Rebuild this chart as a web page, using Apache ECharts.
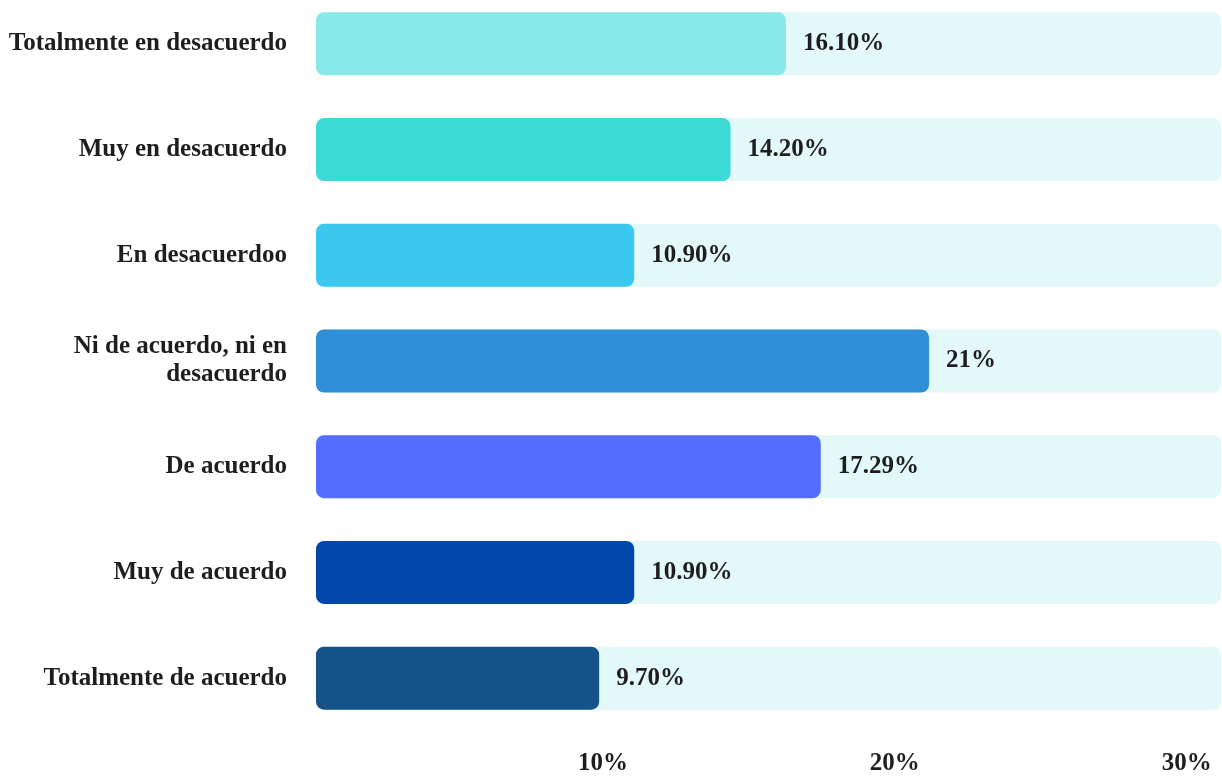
<!DOCTYPE html>
<html>
<head>
<meta charset="utf-8">
<script src="https://cdn.jsdelivr.net/npm/echarts@6/dist/echarts.min.js"></script>
<style>
  html, body { margin: 0; padding: 0; background: #ffffff; overflow: hidden; }
  #chart { position: absolute; left: 0; top: -9px; width: 1222px; height: 786px; }
</style>
</head>
<body>
<div id="chart"></div>
<script>
// Response categories, top to bottom
const categories = [
  'Totalmente en desacuerdo',
  'Muy en desacuerdo',
  'En desacuerdoo',
  'Ni de acuerdo, ni en\ndesacuerdo',
  'De acuerdo',
  'Muy de acuerdo',
  'Totalmente de acuerdo'
];
// Share of responses (%)
const shares = [16.10, 14.20, 10.90, 21, 17.29, 10.90, 9.70];
// Text printed next to each bar
const shareLabels = ['16.10%', '14.20%', '10.90%', '21%', '17.29%', '10.90%', '9.70%'];
// Bar fill per category
const barColors = ['#89E9E8', '#3DD9D6', '#3BC8EE', '#2E8FD6', '#536DFE', '#0048AA', '#155289'];

const textFont = {
  fontFamily: '"Liberation Serif", "Times New Roman", serif',
  fontWeight: 'bold',
  fontSize: 25,
  color: '#1e1e1e'
};

const chart = echarts.init(document.getElementById('chart'), null, { renderer: 'canvas' });

chart.setOption({
  backgroundColor: '#ffffff',
  animation: false,
  grid: { left: 316, right: 1, top: 0, bottom: 46, containLabel: false },
  xAxis: {
    type: 'value',
    min: 0,
    max: 31,
    interval: 10,
    axisLine: { show: false },
    axisTick: { show: false },
    splitLine: { show: false },
    axisLabel: Object.assign({}, textFont, {
      margin: 20,
      padding: [0, 10, 0, 0],
      showMaxLabel: false,
      formatter: v => (v > 0 && v % 10 === 0 ? v + '%' : '')
    })
  },
  yAxis: {
    type: 'category',
    inverse: true,
    data: categories,
    axisLine: { show: false },
    axisTick: { show: false },
    splitLine: { show: false },
    axisLabel: Object.assign({}, textFont, {
      margin: 29,
      align: 'right',
      lineHeight: 28
    })
  },
  series: [{
    type: 'bar',
    barWidth: 63,
    data: shares.map((v, i) => ({
      value: v,
      itemStyle: { color: barColors[i] },
      label: { formatter: shareLabels[i] }
    })),
    itemStyle: { borderRadius: 8 },
    showBackground: true,
    backgroundStyle: { color: '#E3F8F8', borderRadius: 8 },
    label: Object.assign({}, textFont, {
      show: true,
      position: 'right',
      distance: 17
    })
  }]
});
</script>
</body>
</html>
